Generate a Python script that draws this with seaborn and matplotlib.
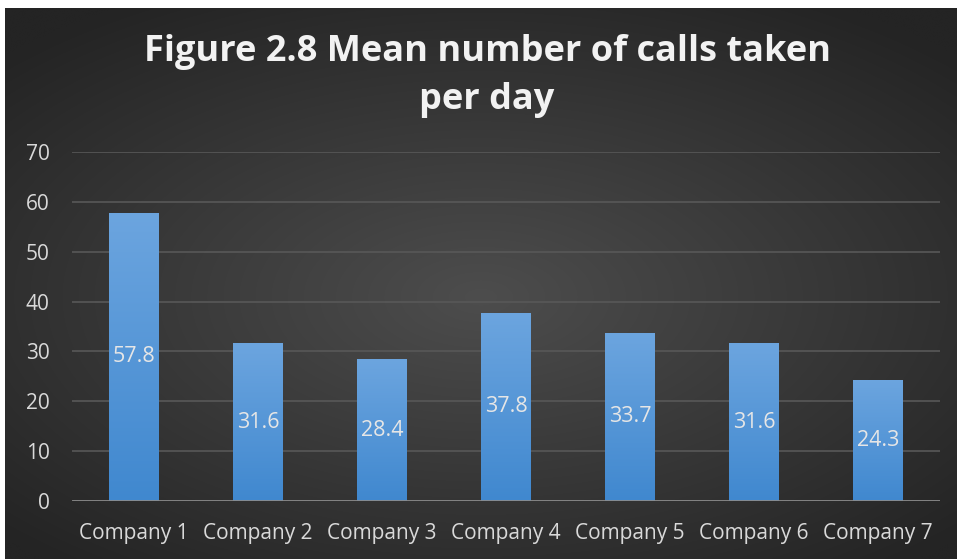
import numpy as np
import pandas as pd
import matplotlib
matplotlib.use("Agg")
import matplotlib.pyplot as plt
import seaborn as sns

companies = ["Company 1", "Company 2", "Company 3", "Company 4", "Company 5", "Company 6", "Company 7"]
mean_calls = [57.8, 31.6, 28.4, 37.8, 33.7, 31.6, 24.3]
y_ticks = [0, 10, 20, 30, 40, 50, 60, 70]
title_text = "Figure 2.8 Mean number of calls taken\nper day"

sns.set_theme(style="dark")
plt.rcParams["font.family"] = ["Open Sans", "DejaVu Sans"]

W, H = 957, 559
fig = plt.figure(figsize=(W / 100, H / 100), dpi=100, facecolor="white")

# background radial gradient panel
bg = fig.add_axes([5 / W, 0, 1 - 5 / W, 1 - 8 / H])
yy, xx = np.mgrid[-1:1:300j, -1:1:500j]
r = np.sqrt((xx * 0.9) ** 2 + ((yy - 0.05) * 1.0) ** 2)
val = np.clip(r / 1.25, 0, 1)
c_in = np.array([0x4d, 0x4d, 0x4d]) / 255
c_out = np.array([0x24, 0x24, 0x24]) / 255
img = c_in[None, None, :] * (1 - val[..., None]) + c_out[None, None, :] * val[..., None]
bg.imshow(img, aspect="auto", extent=[0, 1, 0, 1], interpolation="bicubic")
bg.set_axis_off()

ax = fig.add_axes([72 / W, 1 - 501 / H, (940 - 72) / W, (501 - 152) / H])
ax.patch.set_alpha(0)

df = pd.DataFrame({"company": companies, "calls": mean_calls})
sns.barplot(data=df, x="company", y="calls", color="#5b9bd5", width=0.4,
            saturation=1, ax=ax, zorder=3, edgecolor="none", linewidth=0)

# gradient fill on bars
grad = np.linspace(0, 1, 256)[:, None]
c_top = np.array([0x6c, 0xa5, 0xdf]) / 255
c_bot = np.array([0x40, 0x88, 0xcf]) / 255
gimg = c_top[None, None, :] * (1 - grad[..., None]) + c_bot[None, None, :] * grad[..., None]
gimg = np.repeat(gimg, 2, axis=1)
for p in ax.patches:
    x0, w, h = p.get_x(), p.get_width(), p.get_height()
    im = ax.imshow(gimg, extent=[x0, x0 + w, 0, h], aspect="auto", zorder=3.5,
                   interpolation="bilinear")
    im.set_clip_path(p)
    ax.text(x0 + w / 2, h / 2, f"{h:.1f}", ha="center", va="center",
            color="#e6e6e6", fontsize=15.5, zorder=5)

ax.set_xlim(-0.5, len(companies) - 0.5)
ax.set_ylim(0, 70)
ax.set_yticks(y_ticks)
ax.set_yticklabels([str(t) for t in y_ticks])
for t in y_ticks[1:]:
    ax.axhline(t, color="#585858", lw=1.2, zorder=1)
ax.axhline(0, color="#8c8c8c", lw=2, zorder=6)
ax.grid(False)
for s in ax.spines.values():
    s.set_visible(False)
ax.set_xlabel("")
ax.set_ylabel("")
ax.tick_params(axis="both", colors="#d9d9d9", labelsize=15, length=0)
ax.tick_params(axis="y", pad=16)
ax.tick_params(axis="x", pad=16)

fig.text(0.509, 1 - 76 / H, title_text, ha="center", va="center",
         color="#f2f2f2", fontsize=26, fontweight="bold", linespacing=1.48)

fig.savefig("out.png", dpi=100, facecolor="white")
